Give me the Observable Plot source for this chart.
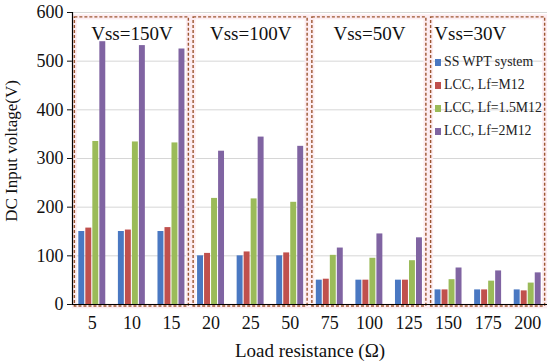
<!DOCTYPE html>
<html>
<head>
<meta charset="utf-8">
<script src="https://cdn.jsdelivr.net/npm/d3@7"></script>
<script src="https://cdn.jsdelivr.net/npm/@observablehq/plot@0.6"></script>
<style>
  html, body { margin: 0; padding: 0; background: #fff; }
  #wrap { position: relative; width: 550px; height: 363px; font-family: "Liberation Serif", serif; }
  #legend { position: absolute; left: 435px; top: 50px; font-size: 13.8px; color: #222; line-height: 23px; }
  #legend .sw { display: inline-block; width: 6px; height: 7px; margin-right: 3px; vertical-align: 0px; }
  #xlabel { position: absolute; left: 0; width: 620px; top: 340px; text-align: center; font-size: 19px; color: #111; }
  #ylabel { position: absolute; left: 12px; top: 151px; font-size: 17px; color: #111; white-space: nowrap; transform: translate(-50%, -50%) rotate(-90deg); }
</style>
</head>
<body>
<div id="wrap"><div id="chart"></div><div id="legend"></div><div id="xlabel"></div><div id="ylabel"></div></div>
<script>
const categories = ["5","10","15","20","25","50","75","100","125","150","175","200"];
const series = ["SS WPT system", "LCC, Lf=M12", "LCC, Lf=1.5M12", "LCC, Lf=2M12"];
const colors = ["#4a78c2", "#c0504d", "#9bbb59", "#8064a2"];
const ssWpt   = [150, 150, 150, 100, 100, 100, 50, 50, 50, 30, 30, 30];
const lccM12  = [157, 153, 158, 105, 108, 106, 52, 50, 50, 30, 30, 28];
const lcc15   = [335, 334, 332, 218, 217, 210, 101, 95, 90, 51, 48, 44];
const lcc2    = [540, 532, 525, 315, 344, 325, 116, 145, 137, 75, 69, 65];
const groups = [
  {label: "Vss=150V", first: 0, last: 2},
  {label: "Vss=100V", first: 3, last: 5},
  {label: "Vss=50V",  first: 6, last: 8},
  {label: "Vss=30V",  first: 9, last: 11}
];
const yTicks = [0, 100, 200, 300, 400, 500, 600];
const xTitle = "Load resistance (Ω)";
const yTitle = "DC Input voltage(V)";

const values = [ssWpt, lccM12, lcc15, lcc2];
const barW = 0.15, step = 0.177;
const bars = [];
values.forEach((arr, s) => arr.forEach((v, i) => {
  const c = i + (s - 1.5) * step;
  bars.push({x1: c - barW / 2, x2: c + barW / 2, y: v, s: series[s]});
}));
const pad = 0.44;
const boxes = groups.map(g => ({
  x1: g.first - pad, x2: g.last + pad, y1: -4, y2: 590, label: g.label,
  xm: g.label === "Vss=30V" ? g.first + 0.55 : (g.first + g.last) / 2
}));

const serif = "Liberation Serif";
const chart = Plot.plot({
  width: 550, height: 363,
  marginLeft: 72, marginRight: 3, marginTop: 12, marginBottom: 59,
  style: {fontFamily: serif, fontSize: "18px", color: "#111", background: "#fff"},
  x: {type: "linear", domain: [-0.5, 11.5], ticks: d3.range(categories.length), tickFormat: i => categories[i], tickSize: 0, tickPadding: 12, label: null},
  y: {domain: [0, 600], ticks: yTicks, tickSize: 5, tickPadding: 4, label: null},
  color: {domain: series, range: colors},
  marks: [
    Plot.gridY(yTicks.slice(1), {stroke: "#d6d6d6", strokeOpacity: 1}),
    Plot.rect(boxes, {x1: "x1", x2: "x2", y1: "y1", y2: "y2", fill: "none", stroke: "#fdecf1", strokeWidth: 5}),
    Plot.rectY(bars, {x1: "x1", x2: "x2", y: "y", fill: "s"}),
    Plot.rect(boxes, {x1: "x1", x2: "x2", y1: "y1", y2: "y2", fill: "none", stroke: "#9c5630", strokeWidth: 1.4, strokeDasharray: "3,2"}),
    Plot.text(boxes, {x: "xm", y: 557, text: "label", fontSize: 19, fontFamily: serif, fill: "#111"}),
    Plot.ruleX([-0.5], {stroke: "#000", strokeWidth: 1.2}),
    Plot.ruleY([0], {stroke: "#000", strokeWidth: 1.2})
  ]
});
document.getElementById("chart").appendChild(chart);

const leg = document.getElementById("legend");
series.forEach((s, i) => {
  const row = document.createElement("div");
  row.innerHTML = `<span class="sw" style="background:${colors[i]}"></span>${s}`;
  leg.appendChild(row);
});
document.getElementById("xlabel").textContent = xTitle;
document.getElementById("ylabel").textContent = yTitle;
</script>
</body>
</html>
